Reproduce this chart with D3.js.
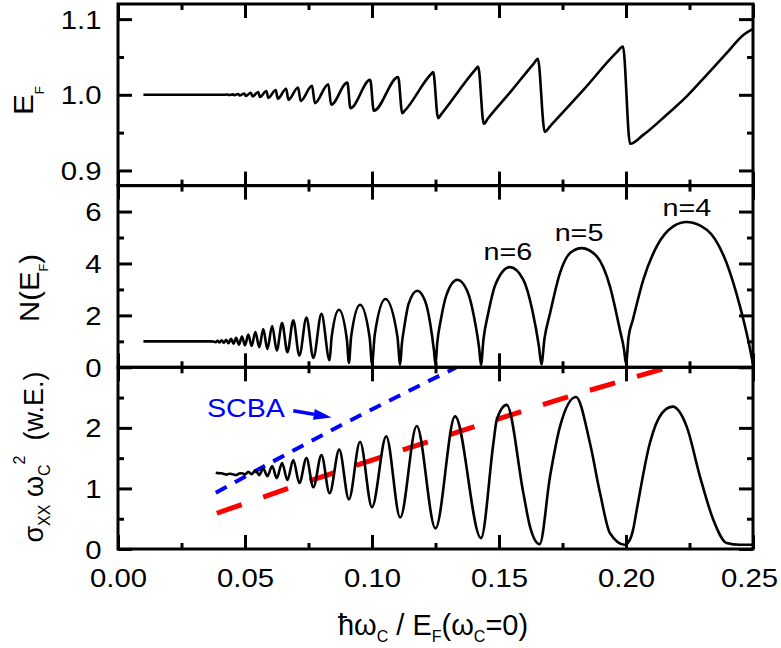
<!DOCTYPE html>
<html>
<head>
<meta charset="utf-8">
<script src="https://cdn.jsdelivr.net/npm/d3@7"></script>
<style>
  html, body { margin: 0; padding: 0; background: #fff; }
  svg { display: block; }
  text { font-family: "Liberation Sans", Arial, Helvetica, sans-serif; white-space: pre; }
</style>
</head>
<body>
<svg id="chart" width="781" height="648"></svg>
<script>
// ---- tick values -------------------------------------------------------
const xTicks = [0, 0.05, 0.10, 0.15, 0.20, 0.25];
const xMinorTicks = [0.025, 0.075, 0.125, 0.175, 0.225];
const efTicks = [0.9, 1.0, 1.1];
const efMinorTicks = [0.95, 1.05];
const dosTicks = [0, 2, 4, 6];
const dosMinorTicks = [1, 3, 5];
const sigTicks = [0, 1, 2];
const sigMinorTicks = [0.5, 1.5, 2.5];

// ---- Fermi energy E_F vs hbar*omega_c / E_F(0) ---------------------------
const fermiEnergy = [
  [0.0100, 1.0000], [0.0410, 1.0000],
  [0.0432, 1.0003], [0.0437, 0.9998],
  [0.0452, 1.0006], [0.0457, 0.9995],
  [0.0473, 1.0011], [0.0479, 0.9991],
  [0.0497, 1.0018], [0.0503, 0.9985],
  [0.0523, 1.0027], [0.0530, 0.9978],
  [0.0552, 1.0038], [0.0559, 0.9970],
  [0.0584, 1.0050], [0.0592, 0.9960],
  [0.0621, 1.0064], [0.0629, 0.9948],
  [0.0662, 1.0080], [0.0671, 0.9935],
  [0.0709, 1.0097], [0.0719, 0.9920],
  [0.0764, 1.0119], [0.0775, 0.9890],
  [0.0828, 1.0140], [0.0839, 0.9868],
  [0.0903, 1.0163], [0.0915, 0.9824],
  [0.0993, 1.0198], [0.1007, 0.9789],
  [0.1103, 1.0234], [0.1119, 0.9758],
  [0.1129, 0.9790], [0.1231, 1.0268],
  [0.1241, 1.0300], [0.1260, 0.9692],
  [0.1273, 0.9745], [0.1405, 1.0325],
  [0.1418, 1.0374], [0.1440, 0.9617],
  [0.1457, 0.9690], [0.1547, 1.0045], [0.1636, 1.0410],
  [0.1653, 1.0475], [0.1680, 0.9510],
  [0.1705, 0.9600], [0.1835, 1.0075], [0.1963, 1.0560],
  [0.1988, 1.0638], [0.2016, 0.9353],
  [0.2068, 0.9470], [0.2160, 0.9736], [0.2239, 0.9980], [0.2318, 1.0264],
  [0.2396, 1.0550], [0.2462, 1.0790], [0.2500, 1.0870]
];

// ---- density of states at the Fermi level -------------------------------
const densityOfStates = [
  [0.0100, 1.000], [0.0370, 1.000],
  [0.0385, 0.970], [0.0392, 1.025],
  [0.0400, 0.955], [0.0408, 1.040],
  [0.0417, 0.945], [0.0426, 1.060],
  [0.0435, 0.925], [0.0445, 1.100],
  [0.0455, 0.905], [0.0465, 1.140],
  [0.0476, 0.875], [0.0488, 1.180],
  [0.0500, 0.850], [0.0513, 1.260],
  [0.0526, 0.820], [0.0541, 1.360],
  [0.0556, 0.770], [0.0572, 1.470],
  [0.0588, 0.710], [0.0607, 1.590],
  [0.0625, 0.650], [0.0646, 1.700],
  [0.0667, 0.580], [0.0690, 1.810],
  [0.0714, 0.450], [0.0742, 1.920],
  [0.0769, 0.360], [0.0801, 2.060],
  [0.0833, 0.270],
  [0.0841, 1.160], [0.0870, 2.220], [0.0901, 1.080],
  [0.0909, 0.170],
  [0.0918, 1.190], [0.0953, 2.410], [0.0991, 1.120],
  [0.1000, 0.120],
  [0.1011, 1.270], [0.1053, 2.630], [0.1100, 1.190],
  [0.1111, 0.100],
  [0.1117, 0.840], [0.1128, 1.610], [0.1144, 2.440], [0.1178, 2.950],
  [0.1208, 2.580], [0.1229, 1.700], [0.1244, 0.640],
  [0.1250, 0.100],
  [0.1257, 0.950], [0.1271, 1.830], [0.1293, 2.780], [0.1336, 3.370],
  [0.1375, 2.940], [0.1402, 1.930], [0.1422, 0.720],
  [0.1429, 0.100],
  [0.1439, 1.090], [0.1458, 2.100], [0.1486, 3.190], [0.1543, 3.860],
  [0.1596, 3.370], [0.1631, 2.210], [0.1657, 0.820],
  [0.1667, 0.120],
  [0.1679, 1.100], [0.1701, 2.080], [0.1740, 3.630], [0.1780, 4.400],
  [0.1826, 4.590], [0.1885, 4.270], [0.1937, 3.110], [0.1976, 1.440], [0.1992, 0.700],
  [0.2000, 0.140],
  [0.2010, 1.150], [0.2027, 1.830], [0.2068, 3.370], [0.2121, 4.660],
  [0.2186, 5.430], [0.2239, 5.600], [0.2318, 5.300], [0.2396, 4.020],
  [0.2449, 2.340], [0.2481, 1.050],
  [0.2500, 0.120]
];

// ---- sigma_xx * omega_c^2 ------------------------------------------------
const sigmaXX = [
  [0.0385, 1.260], [0.0395, 1.252], [0.0408, 1.250], [0.0418, 1.238],
  [0.0428, 1.228], [0.0438, 1.242], [0.0448, 1.239], [0.0458, 1.226],
  [0.0467, 1.223], [0.0477, 1.245], [0.0487, 1.250], [0.0500, 1.234],
  [0.0513, 1.275], [0.0526, 1.235], [0.0541, 1.300], [0.0556, 1.220],
  [0.0572, 1.330], [0.0588, 1.200], [0.0607, 1.370], [0.0625, 1.170],
  [0.0646, 1.420], [0.0667, 1.140], [0.0690, 1.470], [0.0714, 1.090],
  [0.0742, 1.500], [0.0769, 1.020], [0.0801, 1.550], [0.0833, 0.920],
  [0.0871, 1.640], [0.0909, 0.820], [0.0953, 1.770], [0.1000, 0.690],
  [0.1056, 1.860], [0.1111, 0.520], [0.1176, 2.030], [0.1250, 0.340],
  [0.1327, 2.190], [0.1429, 0.180],
  [0.1478, 1.750], [0.1491, 2.130], [0.1530, 2.380], [0.1596, 0.920],
  [0.1622, 0.370], [0.1660, 0.080],
  [0.1701, 1.200], [0.1740, 2.020], [0.1803, 2.510], [0.1858, 1.750],
  [0.1898, 0.920], [0.1937, 0.260], [0.1995, 0.070],
  [0.2015, 0.150], [0.2028, 0.320],
  [0.2042, 0.640], [0.2094, 1.750], [0.2141, 2.240], [0.2184, 2.350],
  [0.2239, 2.020], [0.2291, 1.200], [0.2344, 0.480], [0.2396, 0.100],
  [0.2449, 0.070], [0.2500, 0.070]
];

// SCBA envelope (blue) and second envelope (red)
const scbaLine = [[0.0385, 0.93], [0.0900, 2.09], [0.1333, 3.00]];
const envelopeLine = [[0.0389, 0.59], [0.0808, 1.20], [0.1363, 1.965], [0.1729, 2.457], [0.2147, 2.975]];

// Landau level labels on the DOS arches
const levelLabels = [
  { text: "n=6", x: 0.1535, y: 4.13 },
  { text: "n=5", x: 0.1815, y: 4.87 },
  { text: "n=4", x: 0.2240, y: 5.83 }
];
const scbaLabel = { text: "SCBA", x: 0.0350, y: 2.18 };
const scbaArrow = { from: [0.0690, 2.282], to: [0.0841, 2.173] };

// ---- layout ------------------------------------------------------------
const svg = d3.select("#chart");
const x = d3.scaleLinear().domain([0, 0.25]).range([118, 753]);

const panels = [
  { y: d3.scaleLinear().domain([0.88, 1.12]).range([185.6, 4]),
    ticks: efTicks, minor: efMinorTicks, fmt: d3.format(".1f") },
  { y: d3.scaleLinear().domain([0, 7]).range([367.3, 185.6]),
    ticks: dosTicks, minor: dosMinorTicks, fmt: d3.format("d") },
  { y: d3.scaleLinear().domain([0, 3]).range([549, 367.3]),
    ticks: sigTicks, minor: sigMinorTicks, fmt: d3.format("d") }
];

const TICK = 14, MINOR = 6, LABEL_SX = 1.15, LABEL_SIZE = 25.5;

function cleanAxis(g) {
  g.attr("font-size", null).attr("font-family", null);
  g.select(".domain").remove();
  g.selectAll(".tick line").attr("stroke", "#000").attr("stroke-width", 3);
}

panels.forEach((p, i) => {
  const [yb, yt] = p.y.range();
  const g = svg.append("g");

  // y axis, left, with labels
  const left = g.append("g").attr("transform", `translate(${x(0)},0)`)
    .call(d3.axisLeft(p.y).tickValues(p.ticks).tickFormat(p.fmt).tickSize(-TICK).tickSizeOuter(0))
    .call(cleanAxis);
  left.selectAll(".tick text")
    .attr("x", null).attr("dy", null)
    .attr("font-size", LABEL_SIZE).attr("fill", "#000")
    .attr("transform", `translate(-16.5,9.1) scale(${LABEL_SX},1)`);
  g.append("g").attr("transform", `translate(${x(0)},0)`)
    .call(d3.axisLeft(p.y).tickValues(p.minor).tickFormat("").tickSize(-MINOR).tickSizeOuter(0))
    .call(cleanAxis);

  // y axis, right (mirror ticks)
  g.append("g").attr("transform", `translate(${x(0.25)},0)`)
    .call(d3.axisRight(p.y).tickValues(p.ticks).tickFormat("").tickSize(-TICK).tickSizeOuter(0))
    .call(cleanAxis);
  g.append("g").attr("transform", `translate(${x(0.25)},0)`)
    .call(d3.axisRight(p.y).tickValues(p.minor).tickFormat("").tickSize(-MINOR).tickSizeOuter(0))
    .call(cleanAxis);

  // x axis, bottom of each panel
  const bottom = g.append("g").attr("transform", `translate(0,${yb})`)
    .call(d3.axisBottom(x).tickValues(xTicks)
      .tickFormat(i === 2 ? d3.format(".2f") : "").tickSize(-TICK).tickSizeOuter(0))
    .call(cleanAxis);
  bottom.selectAll(".tick text")
    .attr("y", null).attr("dy", null)
    .attr("font-size", LABEL_SIZE).attr("fill", "#000")
    // the last label is pulled in slightly so it stays inside the page
    .attr("transform", d => `translate(${d === 0.25 ? -4 : 0},38.4) scale(${LABEL_SX},1)`);
  g.append("g").attr("transform", `translate(0,${yb})`)
    .call(d3.axisBottom(x).tickValues(xMinorTicks).tickFormat("").tickSize(-MINOR).tickSizeOuter(0))
    .call(cleanAxis);

  // x axis, top of each panel
  g.append("g").attr("transform", `translate(0,${yt})`)
    .call(d3.axisTop(x).tickValues(xTicks).tickFormat("").tickSize(-TICK).tickSizeOuter(0))
    .call(cleanAxis);
  g.append("g").attr("transform", `translate(0,${yt})`)
    .call(d3.axisTop(x).tickValues(xMinorTicks).tickFormat("").tickSize(-MINOR).tickSizeOuter(0))
    .call(cleanAxis);
});

// ---- curves -------------------------------------------------------------
function lineFor(p) {
  return d3.line().x(d => x(d[0])).y(d => p.y(d[1])).curve(d3.curveMonotoneX);
}

svg.append("path").datum(fermiEnergy)
  .attr("d", lineFor(panels[0]))
  .attr("fill", "none").attr("stroke", "#000").attr("stroke-width", 2.6)
  .attr("stroke-linejoin", "round");

svg.append("path").datum(densityOfStates)
  .attr("d", lineFor(panels[1]))
  .attr("fill", "none").attr("stroke", "#000").attr("stroke-width", 2.6)
  .attr("stroke-linejoin", "round");

svg.append("path").datum(scbaLine)
  .attr("d", lineFor(panels[2]))
  .attr("fill", "none").attr("stroke", "#0000ff").attr("stroke-width", 4)
  .attr("stroke-dasharray", "12.4,9.4");

svg.append("path").datum(envelopeLine)
  .attr("d", lineFor(panels[2]))
  .attr("fill", "none").attr("stroke", "#ff0000").attr("stroke-width", 5)
  .attr("stroke-dasharray", "26.3,22.8");

svg.append("path").datum(sigmaXX)
  .attr("d", lineFor(panels[2]))
  .attr("fill", "none").attr("stroke", "#000").attr("stroke-width", 2.6)
  .attr("stroke-linejoin", "round");

// ---- panel frames ---------------------------------------------------------
panels.forEach(p => {
  const [yb, yt] = p.y.range();
  svg.append("rect")
    .attr("x", x(0)).attr("y", yt)
    .attr("width", x(0.25) - x(0)).attr("height", yb - yt)
    .attr("fill", "none").attr("stroke", "#000").attr("stroke-width", 3);
});

// ---- annotations -----------------------------------------------------------
levelLabels.forEach(l => {
  svg.append("text")
    .attr("transform", `translate(${x(l.x)},${panels[1].y(l.y)}) scale(1.25,1)`)
    .attr("text-anchor", "middle").attr("font-size", 23).attr("fill", "#000")
    .text(l.text);
});

svg.append("text")
  .attr("transform", `translate(${x(scbaLabel.x)},${panels[2].y(scbaLabel.y)}) scale(1.1,1)`)
  .attr("text-anchor", "start").attr("font-size", 26).attr("fill", "#0000ff")
  .text(scbaLabel.text);

{
  const ys = panels[2].y;
  const x1 = x(scbaArrow.from[0]), y1 = ys(scbaArrow.from[1]);
  const x2 = x(scbaArrow.to[0]), y2 = ys(scbaArrow.to[1]);
  const ang = Math.atan2(y2 - y1, x2 - x1);
  const headLen = 18, headHalf = 5.5;
  const bx = x2 - headLen * Math.cos(ang), by = y2 - headLen * Math.sin(ang);
  svg.append("line")
    .attr("x1", x1).attr("y1", y1).attr("x2", bx).attr("y2", by)
    .attr("stroke", "#0000ff").attr("stroke-width", 3.5);
  svg.append("path")
    .attr("d", `M${x2},${y2}L${bx - headHalf * Math.sin(ang)},${by + headHalf * Math.cos(ang)}` +
               `L${bx + headHalf * Math.sin(ang)},${by - headHalf * Math.cos(ang)}Z`)
    .attr("fill", "#0000ff");
}

// ---- axis titles ----------------------------------------------------------
function richText(parent, parts, o) {
  const t = parent.append("text")
    .attr("font-size", o.size).attr("text-anchor", o.anchor || "middle").attr("fill", "#000");
  let shift = 0;
  parts.forEach(([s, kind]) => {
    const target = kind === "sub" ? o.subShift : kind === "sup" ? -o.supShift : 0;
    t.append("tspan")
      .attr("dy", target - shift)
      .attr("font-size", kind ? o.small : o.size)
      .text(s);
    shift = target;
  });
  return t;
}

// E_F
richText(svg.append("g").attr("transform", "translate(33,100.5) rotate(-90) scale(1.12,1)"),
  [["E"], ["F", "sub"]], { size: 28, small: 12, subShift: 11 });

// N(E_F)
richText(svg.append("g").attr("transform", "translate(39,288) rotate(-90) scale(1.05,1)"),
  [["N(E"], ["F", "sub"], [")"]], { size: 28, small: 12, subShift: 9 });

// sigma_xx omega_c^2 (w.E.)
richText(svg.append("g").attr("transform", "translate(43,457) rotate(-90) scale(1.0,1)"),
  [["σ"], ["XX", "sub"], [" ω"], ["C", "sub"], ["2", "sup"], ["  (w.E.)"]],
  { size: 27, small: 16, subShift: 7, supShift: 18 });

// x title
richText(svg.append("g").attr("transform", "translate(433,635)"),
  [["ħω"], ["C", "sub"], [" / E"], ["F", "sub"], ["(ω"], ["C", "sub"], ["=0)"]],
  { size: 29, small: 16, subShift: 7 });
</script>
</body>
</html>
